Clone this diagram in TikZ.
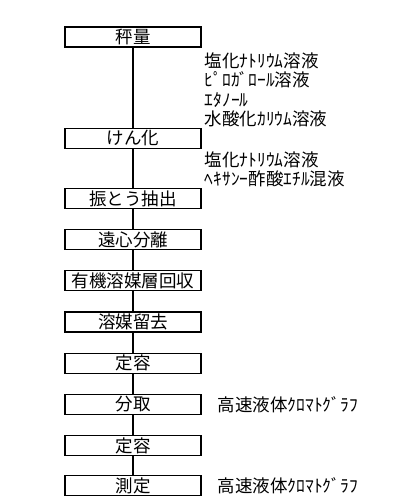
\documentclass[tikz,border=0pt]{standalone}
\usepackage{fontspec}
\setmainfont{Noto Sans CJK JP}
\usetikzlibrary{positioning}
\tikzstyle{stepbox} = [rectangle, minimum width=136pt, minimum height=20pt, inner sep=0pt, text centered, draw = black, line width=1.2pt, font=\fontsize{17.5}{19.5}\selectfont]
\tikzstyle{reagent} = [anchor = north west, inner sep=0pt, align=left, font=\fontsize{17.5}{19.5}\selectfont]
\tikzstyle{method} = [anchor = west, inner sep=0pt, font=\fontsize{17.5}{19.5}\selectfont]
\tikzstyle{flow} = [line width=1.2pt]

\begin{document}
\begin{tikzpicture}[node distance = 20pt]
	\useasboundingbox (0,0) rectangle (400pt,-500pt);

	% Steps - - - - - - - - - - - - - - - - - - - - - - - - - - - - - - - - - -

	%weighing
	\node(weigh) [stepbox] at (133pt,-37pt) {秤量};
	%saponification
	\node(sapon) [stepbox, below= 80pt of weigh] {けん化};
	%extraction
	\node(extract) [stepbox, below= 39pt of sapon] {振とう抽出};
	\node(centri) [stepbox, below= of extract] {遠心分離};
	\node(recover) [stepbox, below= of centri] {有機溶媒層回収};
	\node(evap) [stepbox, below= of recover] {溶媒留去};
	\node(fixa) [stepbox, below= of evap] {定容};
	%aliquot for HPLC
	\node(aliquot) [stepbox, below= of fixa] {分取};
	\node(fixb) [stepbox, below= of aliquot] {定容};
	\node(measure) [stepbox, below= 19pt of fixb] {測定};

	% Reagents and methods - - - - - - - - - - - - - - - - - - - - - - - - - -
	\node(reagsapon) [reagent] at ([shift={(3pt,-4.5pt)}]weigh.south east)
		{塩化ﾅﾄﾘｳﾑ溶液\\ﾋﾟﾛｶﾞﾛｰﾙ溶液\\ｴﾀﾉｰﾙ\\水酸化ｶﾘｳﾑ溶液};
	\node(reagextr) [reagent] at ([shift={(3pt,-2.5pt)}]sapon.south east)
		{塩化ﾅﾄﾘｳﾑ溶液\\ﾍｷｻﾝｰ酢酸ｴﾁﾙ混液};
	\node(hplca) [method, right= 16pt of aliquot] {高速液体ｸﾛﾏﾄｸﾞﾗﾌ};
	\node(hplcb) [method, right= 16pt of measure] {高速液体ｸﾛﾏﾄｸﾞﾗﾌ};

	% Flow lines - - - - - - - - - - - - - - - - - - - - - - - - - - - - - - -
	\foreach \a/\b in {weigh/sapon, sapon/extract, extract/centri, centri/recover,
		recover/evap, evap/fixa, fixa/aliquot, aliquot/fixb, fixb/measure}
		\draw[flow](\a)--(\b);

\end{tikzpicture}
\end{document}
